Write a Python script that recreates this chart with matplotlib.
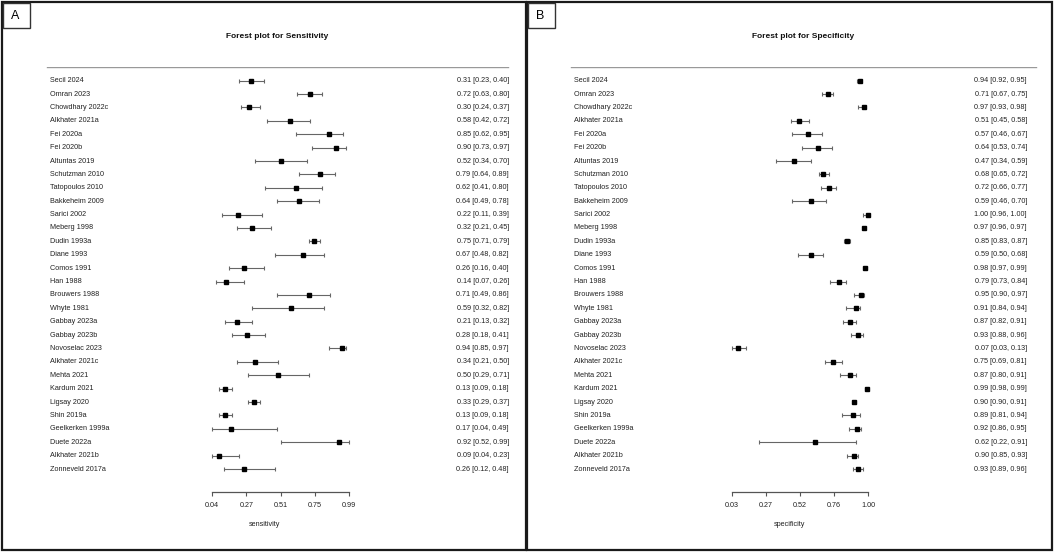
import matplotlib
matplotlib.use("Agg")
import matplotlib.pyplot as plt
from matplotlib.patches import Rectangle
from matplotlib import transforms

plt.rcParams['font.family'] = ['Liberation Sans', 'DejaVu Sans']

studies = ["Secil 2024", "Omran 2023", "Chowdhary 2022c", "Alkhater 2021a", "Fei 2020a",
           "Fei 2020b", "Altuntas 2019", "Schutzman 2010", "Tatopoulos 2010", "Bakkeheim 2009",
           "Sarici 2002", "Meberg 1998", "Dudin 1993a", "Diane 1993", "Comos 1991",
           "Han 1988", "Brouwers 1988", "Whyte 1981", "Gabbay 2023a", "Gabbay 2023b",
           "Novoselac 2023", "Alkhater 2021c", "Mehta 2021", "Kardum 2021", "Ligsay 2020",
           "Shin 2019a", "Geelkerken 1999a", "Duete 2022a", "Alkhater 2021b", "Zonneveld 2017a"]

sens = [0.31, 0.72, 0.30, 0.58, 0.85, 0.90, 0.52, 0.79, 0.62, 0.64,
        0.22, 0.32, 0.75, 0.67, 0.26, 0.14, 0.71, 0.59, 0.21, 0.28,
        0.94, 0.34, 0.50, 0.13, 0.33, 0.13, 0.17, 0.92, 0.09, 0.26]
sens_lo = [0.23, 0.63, 0.24, 0.42, 0.62, 0.73, 0.34, 0.64, 0.41, 0.49,
           0.11, 0.21, 0.71, 0.48, 0.16, 0.07, 0.49, 0.32, 0.13, 0.18,
           0.85, 0.21, 0.29, 0.09, 0.29, 0.09, 0.04, 0.52, 0.04, 0.12]
sens_hi = [0.40, 0.80, 0.37, 0.72, 0.95, 0.97, 0.70, 0.89, 0.80, 0.78,
           0.39, 0.45, 0.79, 0.82, 0.40, 0.26, 0.86, 0.82, 0.32, 0.41,
           0.97, 0.50, 0.71, 0.18, 0.37, 0.18, 0.49, 0.99, 0.23, 0.48]

spec = [0.94, 0.71, 0.97, 0.51, 0.57, 0.64, 0.47, 0.68, 0.72, 0.59,
        1.00, 0.97, 0.85, 0.59, 0.98, 0.79, 0.95, 0.91, 0.87, 0.93,
        0.07, 0.75, 0.87, 0.99, 0.90, 0.89, 0.92, 0.62, 0.90, 0.93]
spec_lo = [0.92, 0.67, 0.93, 0.45, 0.46, 0.53, 0.34, 0.65, 0.66, 0.46,
           0.96, 0.96, 0.83, 0.50, 0.97, 0.73, 0.90, 0.84, 0.82, 0.88,
           0.03, 0.69, 0.80, 0.98, 0.90, 0.81, 0.86, 0.22, 0.85, 0.89]
spec_hi = [0.95, 0.75, 0.98, 0.58, 0.67, 0.74, 0.59, 0.72, 0.77, 0.70,
           1.00, 0.97, 0.87, 0.68, 0.99, 0.84, 0.97, 0.94, 0.91, 0.96,
           0.13, 0.81, 0.91, 0.99, 0.91, 0.94, 0.95, 0.91, 0.93, 0.96]

sens_ticks = [0.04, 0.2775, 0.515, 0.7525, 0.99]
sens_ticklabels = ["0.04", "0.27", "0.51", "0.75", "0.99"]
spec_ticks = [0.03, 0.2725, 0.515, 0.7575, 1.00]
spec_ticklabels = ["0.03", "0.27", "0.52", "0.76", "1.00"]

W, H = 1056, 553
fig = plt.figure(figsize=(W / 100, H / 100), dpi=100)


def fx(px):
    return px / W


def fy(py):
    return 1 - py / H


def panel(letter, title, xlab, est, lo, hi, ticks, ticklabels,
          left, right, x0px, x0, x1px, x1, rule, lab_px, val_px):
    # panel frame and letter box
    fig.patches.append(Rectangle((fx(left), fy(550)), fx(right - left), 548 / H,
                                 transform=fig.transFigure, fill=False,
                                 edgecolor="#1a1a1a", linewidth=1.6))
    fig.patches.append(Rectangle((fx(left + 1), fy(28)), fx(27), 25 / H,
                                 transform=fig.transFigure, fill=False,
                                 edgecolor="#333333", linewidth=1.0))
    fig.text(fx(left + 13), fy(16), letter, fontsize=9, ha="center", va="center")

    top_px, bot_px = 67, 492
    ax = fig.add_axes([fx(left), fy(bot_px), fx(right - left), (bot_px - top_px) / H])
    ax.patch.set_alpha(0)
    scale = (x1px - x0px) / (x1 - x0)
    ax.set_xlim(x0 - (x0px - left) / scale, x1 + (right - x1px) / scale)
    n = len(studies)
    step = (469 - 80.7) / (n - 1)
    ax.set_ylim(n - 1 + (bot_px - 469) / step, -(80.7 - top_px) / step)

    for s in ["top", "left", "right"]:
        ax.spines[s].set_visible(False)
    ax.spines["bottom"].set_bounds(ticks[0], ticks[-1])
    ax.spines["bottom"].set_color("#555555")
    ax.spines["bottom"].set_linewidth(0.9)
    ax.set_yticks([])
    ax.set_xticks(ticks)
    ax.set_xticklabels(ticklabels)
    ax.tick_params(axis="x", length=3, width=0.8, color="#555555",
                   labelsize=5.2, pad=4, labelcolor="#222222")
    ax.set_xlabel(xlab, fontsize=5.2, labelpad=9, color="#222222")

    # title and rule
    fig.text(fx((rule[0] + rule[1]) / 2), fy(36), title, fontsize=6,
             fontweight="bold", ha="center", va="center", color="#111111")
    ax.axhline(ax.get_ylim()[1], xmin=(rule[0] - left) / (right - left),
               xmax=(rule[1] - left) / (right - left), color="#999999", linewidth=1.0)

    ys = list(range(n))
    ax.hlines(ys, lo, hi, color="#666666", linewidth=0.8)
    ax.plot(lo, ys, "|", color="#666666", markersize=3, markeredgewidth=0.8)
    ax.plot(hi, ys, "|", color="#666666", markersize=3, markeredgewidth=0.8)
    ax.plot(est, ys, "s", color="black", markersize=2.6)

    tr = transforms.blended_transform_factory(fig.transFigure, ax.transData)
    for i, name in enumerate(studies):
        fig.text(fx(lab_px), i, name, transform=tr, fontsize=5.2,
                 ha="left", va="center", color="#222222")
        fig.text(fx(val_px), i, f"{est[i]:.2f} [{lo[i]:.2f}, {hi[i]:.2f}]",
                 transform=tr, fontsize=5.2, ha="right", va="center", color="#222222")


panel("A", "Forest plot for Sensitivity", "sensitivity", sens, sens_lo, sens_hi,
      sens_ticks, sens_ticklabels, 2, 526, 212, 0.04, 349, 0.99, (47, 508), 50, 509)
panel("B", "Forest plot for Specificity", "specificity", spec, spec_lo, spec_hi,
      spec_ticks, spec_ticklabels, 527, 1052, 732, 0.03, 868.3, 1.00, (571, 1036), 574, 1027)

fig.savefig("out.png", dpi=100)
